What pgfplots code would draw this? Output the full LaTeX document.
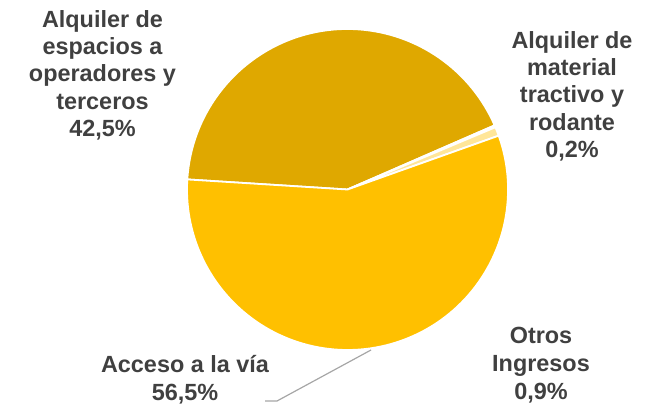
\documentclass[border=0pt]{standalone}
\usepackage{pgfplots}
\pgfplotsset{compat=1.18}
\usepackage{pgfplotstable}
\usepackage{fontspec}
\setmainfont{Liberation Sans}
\definecolor{espacios}{HTML}{DFA800}
\definecolor{material}{HTML}{FFF2CC}
\definecolor{otros}{HTML}{FFE699}
\definecolor{acceso}{HTML}{FFC000}
\definecolor{txt}{HTML}{404040}
\definecolor{leader}{HTML}{A6A6A6}

\pgfplotstableread{
value col
42.5 espacios
0.2 material
0.9 otros
56.5 acceso
}\piedata

\begin{document}
\begin{tikzpicture}
\begin{axis}[
  x=1bp, y=1bp, xmin=0, xmax=659, ymin=0, ymax=402,
  hide axis, clip=false, scale only axis,
]
\path (axis cs:0,0) rectangle (axis cs:659,402);
\pgfplotstablegetrowsof{\piedata}
\pgfmathtruncatemacro\N{\pgfplotsretval-1}
\def\cur{176.4}
\pgfplotsforeachungrouped \i in {0,...,\N}{%
  \pgfplotstablegetelem{\i}{value}\of\piedata \let\v\pgfplotsretval
  \pgfplotstablegetelem{\i}{col}\of\piedata \let\c\pgfplotsretval
  \pgfmathsetmacro\nxt{\cur-\v/100.1*360}%
  \edef\temp{\noexpand\fill[fill=\c, draw=white, line width=1.8pt, line join=round]
    (axis cs:347.5,212.5) -- ++(\cur:160.5bp) arc[start angle=\cur, end angle=\nxt, radius=160.5bp] -- cycle;}%
  \temp
  \let\cur\nxt
}
\draw[leader, line width=1.2pt] (axis cs:371,52) -- (axis cs:277,1) -- (axis cs:265,1);
\begin{scope}[every node/.style={font=\fontsize{23.5}{27}\selectfont\bfseries, text=txt, anchor=base, inner sep=0pt}]
\node at (axis cs:102.5,374) {Alquiler de};
\node at (axis cs:102.5,347) {espacios a};
\node at (axis cs:102.5,320) {operadores y};
\node at (axis cs:102.5,292) {terceros};
\node at (axis cs:102.5,265) {42,5\%};
\node at (axis cs:572,353) {Alquiler de};
\node at (axis cs:572,326) {material};
\node at (axis cs:572,299) {tractivo y};
\node at (axis cs:572,271) {rodante};
\node at (axis cs:572,244) {0,2\%};
\node at (axis cs:541,59) {Otros};
\node at (axis cs:541,31) {Ingresos};
\node at (axis cs:541,3) {0,9\%};
\node at (axis cs:185,29.5) {Acceso a la vía};
\node at (axis cs:185,2) {56,5\%};
\end{scope}
\end{axis}
\end{tikzpicture}
\end{document}
